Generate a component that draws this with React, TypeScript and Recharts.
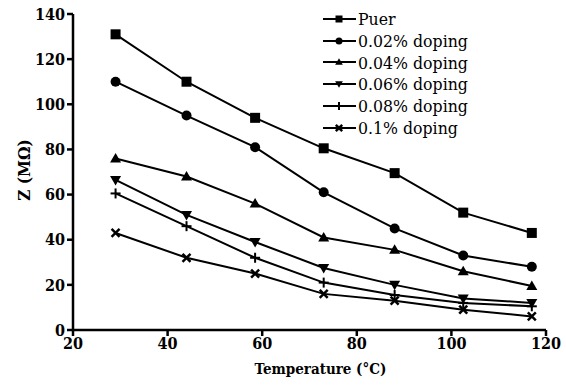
import { Legend, Line, LineChart, XAxis, YAxis } from "recharts"

const temperatures = [29, 44, 58.5, 73, 88, 102.5, 117]
const puer = [131, 110, 94, 80.5, 69.5, 52, 43]
const doping002 = [110, 95, 81, 61, 45, 33, 28]
const doping004 = [76, 68, 56, 41, 35.5, 26, 19.5]
const doping006 = [66.5, 51, 39, 27.5, 20, 14, 12]
const doping008 = [60.5, 46, 32, 21, 15.5, 12, 10.5]
const doping01 = [43, 32, 25, 16, 13, 9, 6]
const xTicks = [20, 40, 60, 80, 100, 120]
const yTicks = [0, 20, 40, 60, 80, 100, 120, 140]

type Shape = "square" | "circle" | "up" | "down" | "plus" | "cross"

const series: { key: string; name: string; shape: Shape; values: number[] }[] = [
	{ key: "puer", name: "Puer", shape: "square", values: puer },
	{ key: "d002", name: "0.02% doping", shape: "circle", values: doping002 },
	{ key: "d004", name: "0.04% doping", shape: "up", values: doping004 },
	{ key: "d006", name: "0.06% doping", shape: "down", values: doping006 },
	{ key: "d008", name: "0.08% doping", shape: "plus", values: doping008 },
	{ key: "d01", name: "0.1% doping", shape: "cross", values: doping01 },
]

const data = temperatures.map((t, i) => {
	const row: Record<string, number> = { t }
	series.forEach((s) => {
		row[s.key] = s.values[i]
	})
	return row
})

const font = "'DejaVu Serif Condensed', 'DejaVu Serif', serif"

const Marker = ({ shape, cx, cy, r }: { shape: Shape; cx: number; cy: number; r: number }) => {
	if (cx == null || cy == null) return null
	switch (shape) {
		case "square":
			return <rect x={cx - r} y={cy - r} width={r * 2} height={r * 2} fill="#000" />
		case "circle":
			return <circle cx={cx} cy={cy} r={r} fill="#000" />
		case "up":
			return (
				<polygon
					points={`${cx},${cy - r * 1.1} ${cx - r * 1.1},${cy + r * 0.8} ${cx + r * 1.1},${cy + r * 0.8}`}
					fill="#000"
				/>
			)
		case "down":
			return (
				<polygon
					points={`${cx},${cy + r * 1.1} ${cx - r * 1.1},${cy - r * 0.8} ${cx + r * 1.1},${cy - r * 0.8}`}
					fill="#000"
				/>
			)
		case "plus":
			return (
				<g stroke="#000" strokeWidth={2}>
					<line x1={cx - r} y1={cy} x2={cx + r} y2={cy} />
					<line x1={cx} y1={cy - r} x2={cx} y2={cy + r} />
				</g>
			)
		case "cross":
			return (
				<g stroke="#000" strokeWidth={2.5}>
					<line x1={cx - r * 0.8} y1={cy - r * 0.8} x2={cx + r * 0.8} y2={cy + r * 0.8} />
					<line x1={cx - r * 0.8} y1={cy + r * 0.8} x2={cx + r * 0.8} y2={cy - r * 0.8} />
				</g>
			)
	}
	return null
}

const LegendBox = () => (
	<div style={{ fontFamily: font, fontSize: 17.5, color: "#000", lineHeight: "22px" }}>
		{series.map((s) => (
			<div key={s.key} style={{ display: "flex", alignItems: "center", height: 21.8 }}>
				<svg width={36} height={16} style={{ marginRight: 0 }}>
					<line x1={1} y1={8} x2={34} y2={8} stroke="#000" strokeWidth={2} />
					<Marker shape={s.shape} cx={17} cy={8} r={s.shape === "plus" || s.shape === "cross" ? 4 : 3.5} />
				</svg>
				<span>{s.name}</span>
			</div>
		))}
	</div>
)

const App = () => {
	return (
		<div style={{ position: "absolute", top: 0, left: 0, background: "#fff" }}>
			<LineChart
				width={566}
				height={385}
				data={data}
				margin={{ top: 14, right: 20, bottom: 0, left: 0 }}
			>
				<XAxis
					dataKey="t"
					type="number"
					domain={[20, 120]}
					ticks={xTicks}
					height={55}
					stroke="#000"
					strokeWidth={2.5}
					tickSize={6}
					tick={{ fill: "#000", fontFamily: font, fontSize: 16, fontWeight: "bold" }}
					label={{
						value: "Temperature (°C)",
						position: "insideBottom",
						offset: 11,
						dx: 11,
						fill: "#000",
						fontFamily: font,
						fontSize: 15,
						fontWeight: "bold",
					}}
				/>
				<YAxis
					type="number"
					domain={[0, 140]}
					ticks={yTicks}
					width={73}
					stroke="#000"
					strokeWidth={2.5}
					tickSize={6}
					tick={{ fill: "#000", fontFamily: font, fontSize: 16, fontWeight: "bold" }}
					label={{
						value: "Z (MΩ)",
						angle: -90,
						position: "insideLeft",
						offset: 24,
						dy: -2,
						fill: "#000",
						fontFamily: font,
						fontSize: 17,
						fontWeight: "bold",
						style: { textAnchor: "middle" },
					}}
				/>
				<Legend
					layout="vertical"
					verticalAlign="middle"
					align="center"
					wrapperStyle={{ top: 8, left: 322, width: 220 }}
					content={() => <LegendBox />}
				/>
				{series.map((s) => (
					<Line
						key={s.key}
						dataKey={s.key}
						name={s.name}
						type="linear"
						stroke="#000"
						strokeWidth={2}
						isAnimationActive={false}
						dot={(p: any) => (
							<Marker key={`${s.key}-${p.index}`} shape={s.shape} cx={p.cx} cy={p.cy} r={5} />
						)}
						activeDot={false}
					/>
				))}
			</LineChart>
		</div>
	)
}

export default App
